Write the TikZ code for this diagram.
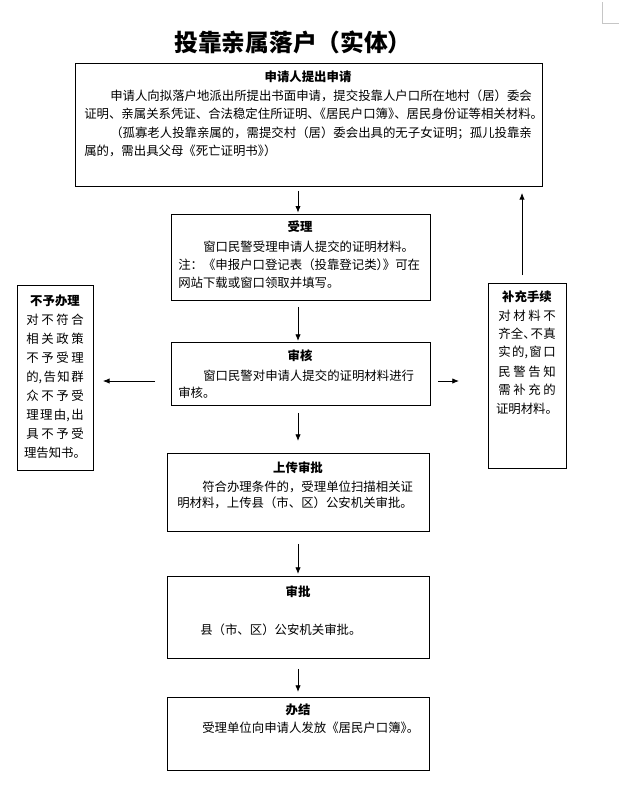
\documentclass[tikz,border=0pt]{standalone}
\usepackage{fontspec}
\setmainfont{Noto Sans CJK SC}
\usetikzlibrary{arrows.meta}
\newcommand{\kk}{\kern-0.5em}
\begin{document}
\begin{tikzpicture}[x=0.75pt,y=-0.75pt,
  box/.style={draw,line width=0.7pt,inner sep=0pt},
  txt/.style={anchor=west,inner sep=0pt,font=\fontsize{9.3pt}{11pt}\selectfont},
  hd/.style={inner sep=0pt,font=\fontsize{9.3pt}{11pt}\selectfont\bfseries},
  arr/.style={line width=0.6pt,-{Latex[length=5pt,width=4pt]}}]
\useasboundingbox (0,0) rectangle (619,796);
% page corner mark
\draw[gray!45,line width=0.6pt] (602,2) -- (602,23) -- (619,23);
% title
\node[inner sep=0pt,font=\fontsize{17.8pt}{19pt}\selectfont\bfseries] (title) at (293,42) {投靠亲属落户（实体）};
% boxes
\node[box,minimum width=350.25pt,minimum height=92.25pt,anchor=north west] (b1) at (75,63) {};
\node[box,minimum width=194.25pt,minimum height=64.5pt,anchor=north west] (b2) at (171,214) {};
\node[box,minimum width=194.25pt,minimum height=47.25pt,anchor=north west] (b3) at (171,342) {};
\node[box,minimum width=196.5pt,minimum height=58.5pt,anchor=north west] (b4) at (167,453) {};
\node[box,minimum width=196.5pt,minimum height=61.5pt,anchor=north west] (b5) at (167,576) {};
\node[box,minimum width=196.5pt,minimum height=54.75pt,anchor=north west] (b6) at (167,697) {};
\node[box,minimum width=57pt,minimum height=138.75pt,anchor=north west] (lb) at (17,285) {};
\node[box,minimum width=58.5pt,minimum height=138.75pt,anchor=north west] (rb) at (488,283) {};
% box 1 text
\node[hd] (h1) at (308,77) {申请人提出申请};
\node[txt] (t11) at (110,96) {申请人向拟落户地派出所提出书面申请，提交投靠人户口所在地村（居）委会};
\node[txt] (t12) at (84,114) {证明、亲属关系凭证、合法稳定住所证明、\kk《居民户口簿》\kk、居民身份证等相关材料。};
\node[txt] (t13) at (110,133) {（孤寡老人投靠亲属的，需提交村（居）委会出具的无子女证明；孤儿投靠亲};
\node[txt] (t14) at (84,151) {属的，需出具父母《死亡证明书》\kk）};
% box 2 text
\node[hd] (h2) at (300,227) {受理};
\node[txt] (t21) at (203,247) {窗口民警受理申请人提交的证明材料。};
\node[txt] (t22) at (178,265) {注：《申报户口登记表（投靠登记类）\kk》可在};
\node[txt] (t23) at (178,283) {网站下载或窗口领取并填写。};
% box 3 text
\node[hd] (h3) at (300,356) {审核};
\node[txt] (t31) at (203,376) {窗口民警对申请人提交的证明材料进行};
\node[txt] (t32) at (178,393) {审核。};
% box 4 text
\node[hd] (h4) at (298,468) {上传审批};
\node[txt] (t41) at (202,487) {符合办理条件的，受理单位扫描相关证};
\node[txt] (t42) at (177,503) {明材料，上传县（市、区）公安机关审批。};
% box 5 text
\node[hd] (h5) at (298,592) {审批};
\node[txt] (t51) at (200,630) {县（市、区）公安机关审批。};
% box 6 text
\node[hd] (h6) at (298,710) {办结};
\node[txt] (t61) at (202,728) {受理单位向申请人发放《居民户口簿》\kk。};
% left box text
\node[hd] (hl) at (55,301) {不予办理};
\foreach \t [count=\i] in {{对\hfill 不\hfill 符\hfill 合},{相\hfill 关\hfill 政\hfill 策},{不\hfill 予\hfill 受\hfill 理},{的,\hfill 告\hfill 知\hfill 群},{众\hfill 不\hfill 予\hfill 受},{理\hfill 理\hfill 由,\hfill 出},{具\hfill 不\hfill 予\hfill 受},{理告知书。}}
  \node[txt,anchor=center] (l\i) at (55,{301+19*\i}) {\makebox[43pt]{\t}};
% right box text
\node[hd] (hr) at (527,297) {补充手续};
\foreach \t [count=\i] in {{对\hfill 材\hfill 料\hfill 不},{齐\hfill 全、\kern-0.4em 不\hfill 真},{实\hfill 的,\hfill 窗\hfill 口},{民\hfill 警\hfill 告\hfill 知},{需\hfill 补\hfill 充\hfill 的},{证明材料。}}
  \node[txt,anchor=center] (r\i) at (527,{297+18.6*\i}) {\makebox[43pt]{\t}};
% connectors
\coordinate (col) at (298,0);
\coordinate (colr) at (522,0);
\coordinate (row) at (0,381);
\draw[arr,shorten <=3pt,shorten >=1pt] (b1.south -| col) -- (b2.north -| col);
\draw[arr,shorten <=4.5pt,shorten >=0.75pt] (b2.south -| col) -- (b3.north -| col);
\draw[arr,shorten <=5.25pt,shorten >=9pt] (b3.south -| col) -- (b4.north -| col);
\draw[arr,shorten <=9pt,shorten >=1.5pt] (b4.south -| col) -- (b5.north -| col);
\draw[arr,shorten <=7.5pt,shorten >=3.75pt] (b5.south -| col) -- (b6.north -| col);
\draw[arr,shorten <=12pt,shorten >=6.75pt] (b3.west |- row) -- (lb.east |- row);
\draw[arr,shorten <=5.25pt,shorten >=21.75pt] (b3.east |- row) -- (rb.west |- row);
\draw[arr,shorten <=6pt,shorten >=4.5pt] (rb.north -| colr) -- (b1.south -| colr);
\end{tikzpicture}
\end{document}
